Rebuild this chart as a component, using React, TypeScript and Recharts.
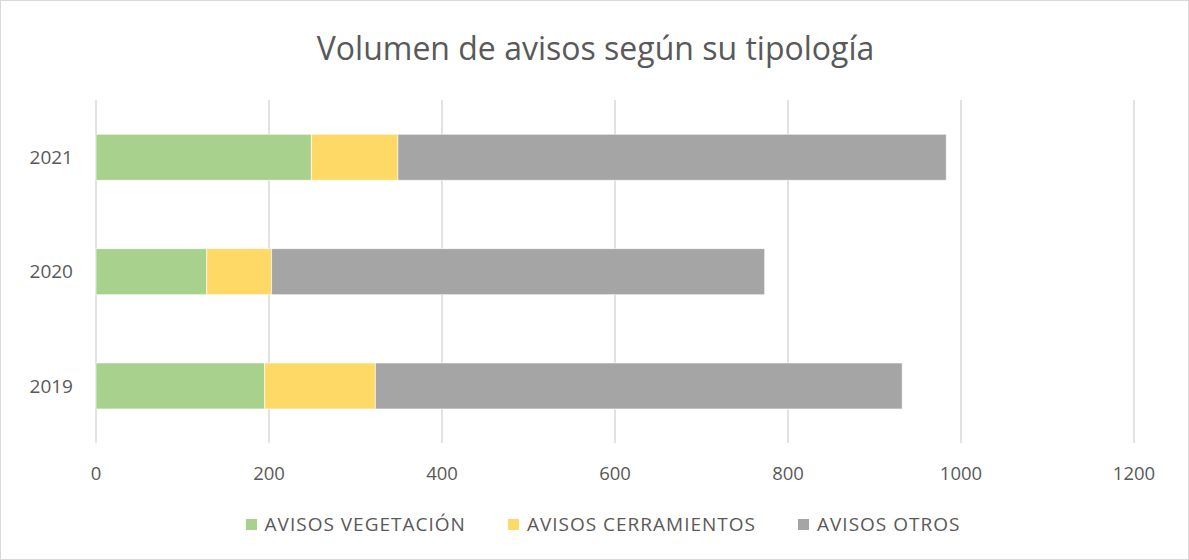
import React from 'react';
import { BarChart, Bar, XAxis, YAxis, CartesianGrid, Legend } from 'recharts';

const categories = ['2019', '2020', '2021'];
const vegetacion = [195, 128, 249];
const cerramientos = [128, 75, 100];
const otros = [609, 570, 634];
const xTicks = [0, 200, 400, 600, 800, 1000, 1200];

const seriesNames = ['AVISOS VEGETACIÓN', 'AVISOS CERRAMIENTOS', 'AVISOS OTROS'];
const seriesColors = ['#A9D18E', '#FFD966', '#A5A5A5'];
const seriesKeys = ['veg', 'cer', 'otr'];

const data = categories.map((c, i) => ({
  year: c,
  veg: vegetacion[i],
  cer: cerramientos[i],
  otr: otros[i],
}));

const FONT = '"Open Sans", Calibri, sans-serif';

const renderLegend = () => (
  <div
    style={{
      display: 'flex',
      justifyContent: 'center',
      alignItems: 'center',
      height: 28,
      fontFamily: FONT,
      fontSize: 19,
      letterSpacing: 1,
      color: '#595959',
      marginLeft: 72,
    }}
  >
    {seriesNames.map((n, i) => (
      <div key={n} style={{ display: 'flex', alignItems: 'center', marginRight: i < 2 ? 42 : 0 }}>
        <span style={{ display: 'inline-block', width: 11, height: 11, background: seriesColors[i], marginRight: 8 }} />
        <span>{n}</span>
      </div>
    ))}
  </div>
);

export default function App() {
  return (
    <div
      style={{
        position: 'absolute',
        left: 0,
        top: 0,
        width: 1189,
        height: 560,
        boxSizing: 'border-box',
        border: '1px solid #d9d9d9',
        background: '#fff',
        overflow: 'hidden',
      }}
    >
      <div
        style={{
          position: 'absolute',
          top: 24,
          left: 0,
          width: 1189,
          textAlign: 'center',
          fontFamily: FONT,
          fontSize: 32,
          color: '#595959',
          lineHeight: '46px',
        }}
      >
        Volumen de avisos según su tipología
      </div>
      <div style={{ position: 'absolute', left: -1, top: -1 }}>
        <BarChart
          width={1189}
          height={560}
          data={data}
          layout="vertical"
          barCategoryGap="30%"
          margin={{ top: 100, right: 55, left: 0, bottom: 0 }}
        >
          <CartesianGrid horizontal={false} stroke="#d9d9d9" strokeWidth={1.5} />
          <XAxis
            type="number"
            domain={[0, 1200]}
            ticks={xTicks}
            axisLine={false}
            tickLine={false}
            tickMargin={18}
            height={67}
            interval={0}
            tick={{ fill: '#595959', fontSize: 18.5, fontFamily: FONT }}
          />
          <YAxis
            type="category"
            dataKey="year"
            reversed
            width={96}
            axisLine={false}
            tickLine={false}
            tickMargin={17}
            tick={{ fill: '#595959', fontSize: 19, fontFamily: FONT }}
          />
          <Legend verticalAlign="bottom" height={50} content={renderLegend} />
          {seriesKeys.map((k, i) => (
            <Bar
              key={k}
              dataKey={k}
              name={seriesNames[i]}
              stackId="a"
              fill={seriesColors[i]}
              stroke="#ffffff"
              strokeWidth={0.6}
              isAnimationActive={false}
            />
          ))}
        </BarChart>
      </div>
    </div>
  );
}
